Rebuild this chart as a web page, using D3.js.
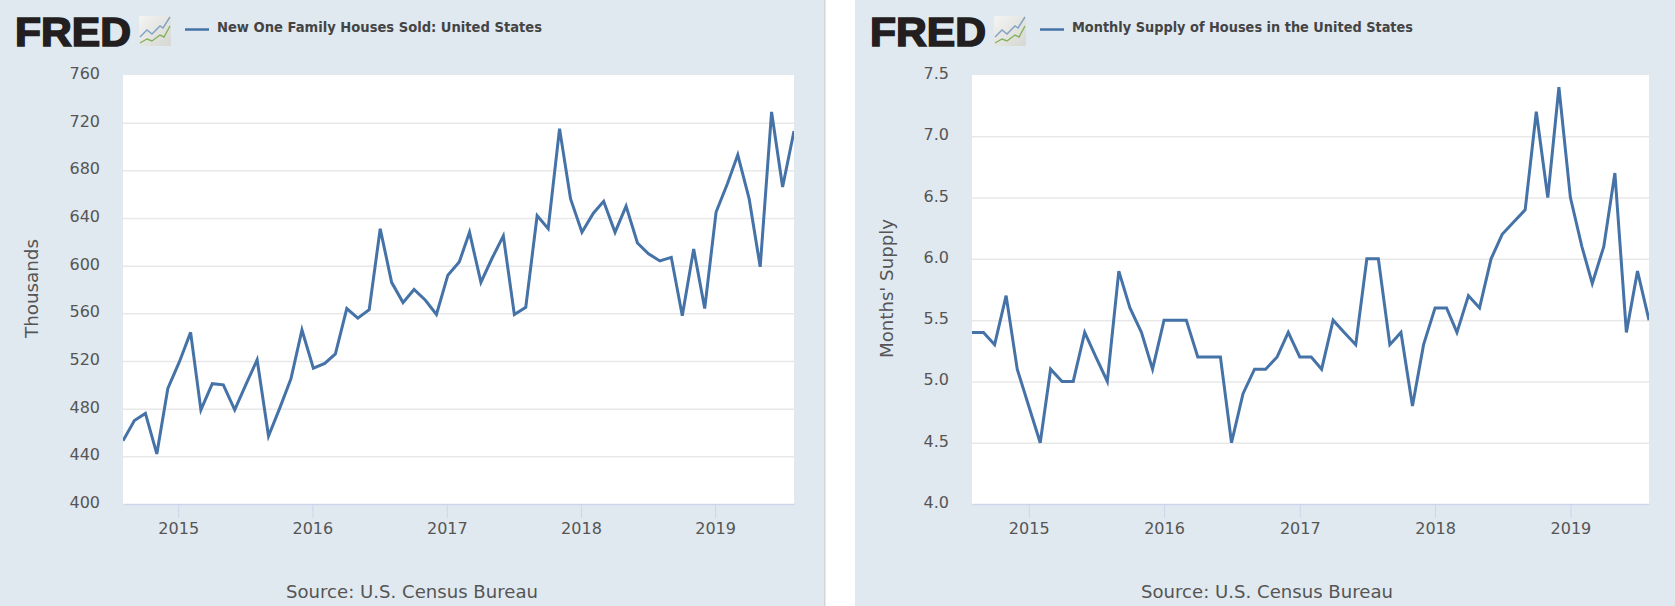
<!DOCTYPE html>
<html>
<head>
<meta charset="utf-8">
<script src="https://cdn.jsdelivr.net/npm/d3@7"></script>
<style>
html,body{margin:0;padding:0;background:#fff;width:1675px;height:606px;overflow:hidden}
svg{display:block}
text{font-family:"DejaVu Sans",sans-serif}
</style>
</head>
<body>
<svg id="c" width="1675" height="606"></svg>
<script>
const startMonth = "2014-08-01";
const endMonth = "2019-08-01";
const salesValues = [453,470,476,442,497,519,544,479,501,500,479,500,521,457,480,505,546,514,518,526,564,556,563,631,586,569,580,571,559,592,603,628,586,606,625,559,565,642,631,715,656,628,644,654,628,650,619,610,604,607,558,614,564,645,669,693,656,599,729,666,713];
const supplyValues = [5.4,5.4,5.3,5.7,5.1,4.8,4.5,5.1,5.0,5.0,5.4,5.2,5.0,5.9,5.6,5.4,5.1,5.5,5.5,5.5,5.2,5.2,5.2,4.5,4.9,5.1,5.1,5.2,5.4,5.2,5.2,5.1,5.5,5.4,5.3,6.0,6.0,5.3,5.4,4.8,5.3,5.6,5.6,5.4,5.7,5.6,6.0,6.2,6.3,6.4,7.2,6.5,7.4,6.5,6.1,5.8,6.1,6.7,5.4,5.9,5.5];
const salesTicks = [400,440,480,520,560,600,640,680,720,760];
const supplyTicks = [4.0,4.5,5.0,5.5,6.0,6.5,7.0,7.5];
const yearTicks = ["2015-01-01","2016-01-01","2017-01-01","2018-01-01","2019-01-01"];
const salesTitle = "New One Family Houses Sold: United States";
const supplyTitle = "Monthly Supply of Houses in the United States";
const salesAxisTitle = "Thousands";
const supplyAxisTitle = "Months' Supply";
const sourceText = "Source: U.S. Census Bureau";

const months = d3.utcMonth.range(new Date(startMonth), d3.utcMonth.offset(new Date(endMonth), 1));
const BG = "#e1e9f0", LINE = "#4572a7", TXT = "#555555", GRID = "#e8e8e8", TICK = "#ccd6eb";
const svg = d3.select("#c");
const defs = svg.append("defs");
const grad = defs.append("linearGradient").attr("id","icon").attr("x1",0).attr("y1",0).attr("x2",1).attr("y2",1);
grad.append("stop").attr("offset",0).attr("stop-color","#f4f4f3");
grad.append("stop").attr("offset",1).attr("stop-color","#d6d6d2");

function panel(o){
  svg.append("rect").attr("x",o.bg[0]).attr("y",0).attr("width",o.bg[1]-o.bg[0]).attr("height",606).attr("fill",BG);
  const plot = {l:o.plot[0], r:o.plot[1], t:75, b:504};
  svg.append("rect").attr("x",plot.l).attr("y",plot.t).attr("width",plot.r-plot.l).attr("height",plot.b-plot.t).attr("fill","#fff");

  const x = d3.scaleUtc().domain([months[0],months[months.length-1]]).range([plot.l,plot.r]);
  const y = d3.scaleLinear().domain(o.domain).range([plot.b,plot.t]);

  // grid + left labels
  const gy = svg.append("g").attr("transform",`translate(${plot.l},0)`)
    .call(d3.axisLeft(y).tickValues(o.ticks).tickFormat(o.fmt).tickSize(-(plot.r-plot.l)).tickPadding(23));
  gy.select(".domain").remove();
  gy.selectAll(".tick line").attr("stroke",GRID).attr("stroke-width",1.5)
    .filter(d=>d===o.domain[0]||d===o.domain[1]).remove();
  gy.selectAll("text").attr("fill",TXT).attr("font-size",16).attr("font-family","DejaVu Sans").attr("dy","0.22em");

  // x axis
  const gx = svg.append("g").attr("transform",`translate(${o.tickShift},${plot.b})`)
    .call(d3.axisBottom(x).tickValues(yearTicks.map(d=>new Date(d))).tickFormat(d3.utcFormat("%Y")).tickSize(14).tickSizeOuter(0).tickPadding(5));
  gx.select(".domain").attr("transform",`translate(${-o.tickShift},0)`).attr("stroke",TICK).attr("stroke-width",1.5);
  gx.selectAll(".tick line").attr("stroke",TICK).attr("stroke-width",1);
  gx.selectAll("text").attr("fill",TXT).attr("font-size",16).attr("font-family","DejaVu Sans");

  // series
  const clipId = "clip"+o.id;
  defs.append("clipPath").attr("id",clipId).append("rect").attr("x",plot.l).attr("y",plot.t-5).attr("width",plot.r-plot.l).attr("height",plot.b-plot.t+10);
  svg.append("path").datum(o.values).attr("clip-path",`url(#${clipId})`)
    .attr("fill","none").attr("stroke",LINE).attr("stroke-width",3).attr("stroke-linejoin","miter")
    .attr("d",d3.line().x((d,i)=>x(months[i])).y(d=>y(d)));

  // y title
  svg.append("text").attr("transform",`translate(${o.yTitleX},288.5) rotate(-90)`).attr("text-anchor","middle")
    .attr("fill",TXT).attr("font-size",17).attr("textLength",o.yTitleW).attr("lengthAdjust","spacingAndGlyphs").text(o.yTitle);

  // source
  svg.append("text").attr("x",o.sourceX).attr("y",598).attr("fill",TXT).attr("font-size",17.5)
    .attr("textLength",252).attr("lengthAdjust","spacingAndGlyphs").text(sourceText);

  // logo
  svg.append("text").attr("x",o.logoX).attr("y",46).attr("fill","#231f20").attr("stroke","#231f20").attr("stroke-width",1.6)
    .attr("style","font-family:'Liberation Sans',sans-serif;font-weight:700").attr("font-size",40)
    .attr("textLength",116).attr("lengthAdjust","spacingAndGlyphs").text("FRED");
  const ix = o.logoX+124;
  const ic = svg.append("g").attr("transform",`translate(${ix},16)`);
  ic.append("rect").attr("width",32).attr("height",30).attr("rx",1.5).attr("fill","url(#icon)");
  ic.append("path").attr("d","M1,21 L8,14 L13,18 L21,10 L24,12 L31,1").attr("fill","none").attr("stroke","#7fa3c4").attr("stroke-width",1.4);
  ic.append("path").attr("d","M1,27 L8,23 L13,25 L21,19 L25,21 L31,10").attr("fill","none").attr("stroke","#86b25b").attr("stroke-width",1.4);

  // legend
  svg.append("line").attr("x1",o.legendX).attr("x2",o.legendX+24).attr("y1",29.5).attr("y2",29.5).attr("stroke",LINE).attr("stroke-width",2.5);
  svg.append("text").attr("x",o.legendX+32).attr("y",32).attr("fill","#444").attr("font-size",14).attr("font-weight",700)
    .attr("textLength",o.legendW).attr("lengthAdjust","spacingAndGlyphs").text(o.title);
}

svg.append("rect").attr("x",824).attr("y",0).attr("width",1.5).attr("height",606).attr("fill","#d4d4d4");

panel({id:"a",bg:[0,824],plot:[123,794],domain:[400,760],ticks:salesTicks,fmt:d3.format("d"),values:salesValues,tickShift:-1,
  yTitle:salesAxisTitle,yTitleW:99,yTitleX:38,sourceX:286,logoX:15,legendX:185,legendW:325,title:salesTitle});
panel({id:"b",bg:[855,1675],plot:[972,1649],domain:[4,7.5],ticks:supplyTicks,fmt:d3.format(".1f"),values:supplyValues,tickShift:0,
  yTitle:supplyAxisTitle,yTitleW:139,yTitleX:893,sourceX:1141,logoX:870,legendX:1040,legendW:341,title:supplyTitle});
</script>
</body>
</html>
